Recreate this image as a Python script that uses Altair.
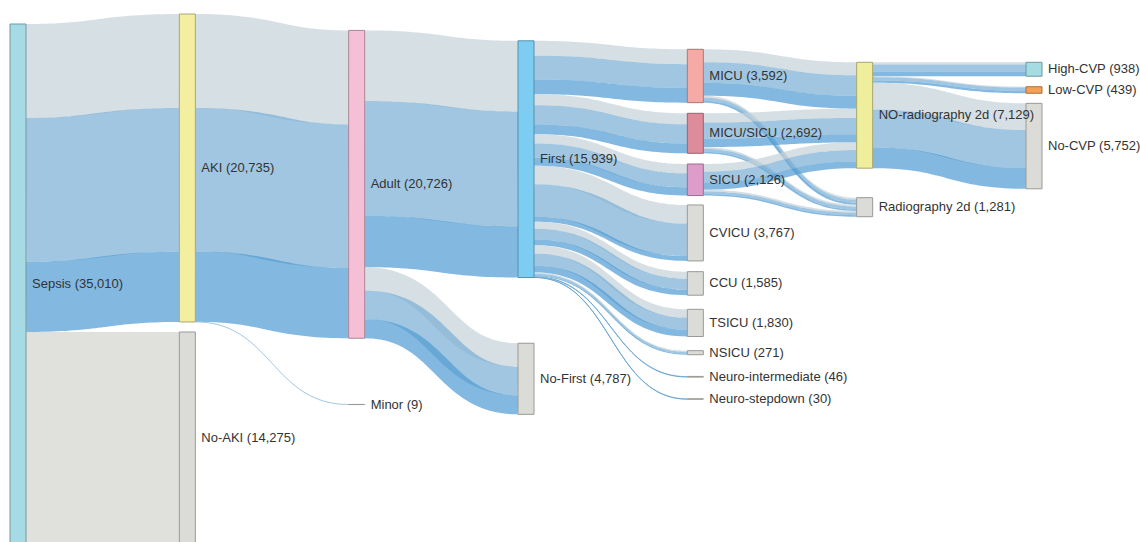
import altair as alt
import pandas as pd
import numpy as np

# ---------------------------------------------------------------------------
# Patient flow: sepsis -> AKI -> adult -> first ICU stay -> ICU type ->
# chest radiography within 2 days -> CVP group.
# Every flow is split by AKI stage (stage 1 / 2 / 3); the No-AKI branch has
# its own group.
# ---------------------------------------------------------------------------
link_source = [
    "Sepsis", "Sepsis",
    "AKI", "AKI",
    "Adult", "Adult",
    "First", "First", "First", "First", "First", "First", "First", "First", "First",
    "MICU", "MICU", "MICU/SICU", "MICU/SICU", "SICU", "SICU",
    "NO-radiography 2d", "NO-radiography 2d", "NO-radiography 2d",
]
link_target = [
    "AKI", "No-AKI",
    "Adult", "Minor",
    "First", "No-First",
    "MICU", "MICU/SICU", "SICU", "CVICU", "CCU", "TSICU", "NSICU",
    "Neuro-intermediate", "Neuro-stepdown",
    "NO-radiography 2d", "Radiography 2d", "NO-radiography 2d", "Radiography 2d",
    "NO-radiography 2d", "Radiography 2d",
    "High-CVP", "Low-CVP", "No-CVP",
]
stage1_patients = [
    6328, 0,
    6328, 0,
    4753, 1575,
    1000, 740, 630, 1250, 470, 560, 80, 14, 9,
    870, 130, 625, 115, 515, 115,
    150, 60, 1800,
]
stage2_patients = [
    9674, 0,
    9665, 9,
    7735, 1930,
    1600, 1290, 940, 2190, 730, 820, 130, 21, 14,
    1390, 210, 1090, 200, 770, 170,
    470, 220, 2560,
]
stage3_patients = [
    4733, 0,
    4733, 0,
    3451, 1282,
    992, 662, 556, 327, 385, 450, 61, 11, 7,
    862, 130, 557, 105, 450, 106,
    318, 159, 1392,
]
no_aki_patients = [
    0, 14275,
    0, 0,
    0, 0,
    0, 0, 0, 0, 0, 0, 0, 0, 0,
    0, 0, 0, 0, 0, 0,
    0, 0, 0,
]

# Nodes, listed column by column in drawing order (top to bottom)
node_names = [
    "Sepsis",
    "AKI", "No-AKI",
    "Adult", "Minor",
    "First", "No-First",
    "MICU", "MICU/SICU", "SICU", "CVICU", "CCU", "TSICU", "NSICU",
    "Neuro-intermediate", "Neuro-stepdown",
    "NO-radiography 2d", "Radiography 2d",
    "High-CVP", "Low-CVP", "No-CVP",
]
node_column = [0, 1, 1, 2, 2, 3, 3, 4, 4, 4, 4, 4, 4, 4, 4, 4, 5, 5, 6, 6, 6]

# ---------------------------------------------------------------------------
# Styling and layout settings
# ---------------------------------------------------------------------------
GREY = "#dbdcd7"
node_fill = {
    "Sepsis": "#a6dbe5", "AKI": "#f4eea0", "No-AKI": GREY,
    "Adult": "#f5bfd6", "Minor": GREY,
    "First": "#7dcdf2", "No-First": GREY,
    "MICU": "#f5aaa5", "MICU/SICU": "#de8b9b", "SICU": "#de9ccb",
    "CVICU": GREY, "CCU": GREY, "TSICU": GREY, "NSICU": GREY,
    "Neuro-intermediate": GREY, "Neuro-stepdown": GREY,
    "NO-radiography 2d": "#eeee9c", "Radiography 2d": GREY,
    "High-CVP": "#a3dce3", "Low-CVP": "#f4a058", "No-CVP": GREY,
}
# empty space left above each node inside its column
node_space_above = {
    "Sepsis": 10,
    "AKI": 0, "No-AKI": 10,
    "Adult": 16.4, "Minor": 66.2,
    "First": 26.8, "No-First": 65.7,
    "MICU": 35.3, "MICU/SICU": 10.65, "SICU": 10.7, "CVICU": 9.4,
    "CCU": 10.75, "TSICU": 14.1, "NSICU": 14.2,
    "Neuro-intermediate": 21.7, "Neuro-stepdown": 21.7,
    "NO-radiography 2d": 48.3, "Radiography 2d": 29.5,
    "High-CVP": 48.3, "Low-CVP": 10.5, "No-CVP": 10.1,
}
group_colors = {
    "stage1": "#c3d1d8",
    "stage2": "#79aed4",
    "stage3": "#4e9bd3",
    "none": "#d3d4cd",
}

W, H = 1140, 542
EXT_TOP, EXT_BOTTOM = 14, 544
LEFT, RIGHT = 10, 1042
NODE_W = 16
PAD = 10
LINK_OPACITY = 0.7
LABEL_FONT = "Liberation Sans"


def darker(hex_color, f=0.7):
    h = hex_color.lstrip("#")
    r, g, b = (int(h[i:i + 2], 16) for i in (0, 2, 4))
    return "#{:02x}{:02x}{:02x}".format(int(r * f), int(g * f), int(b * f))


# ---------------------------------------------------------------------------
# Sankey layout
# ---------------------------------------------------------------------------
groups = {
    "stage1": stage1_patients,
    "stage2": stage2_patients,
    "stage3": stage3_patients,
    "none": no_aki_patients,
}
links = []
for i, (s, t) in enumerate(zip(link_source, link_target)):
    for g, vals in groups.items():
        if vals[i] > 0:
            links.append({"source": s, "target": t, "group": g, "value": vals[i]})

inflow = {n: 0 for n in node_names}
outflow = {n: 0 for n in node_names}
for l in links:
    outflow[l["source"]] += l["value"]
    inflow[l["target"]] += l["value"]
node_value = {n: max(inflow[n], outflow[n]) for n in node_names}

ncol = max(node_column) + 1
col_nodes = [[n for n, c in zip(node_names, node_column) if c == k] for k in range(ncol)]
ky = min((EXT_BOTTOM - EXT_TOP - (len(ns) - 1) * PAD) / sum(node_value[n] for n in ns)
         for ns in col_nodes)
kx = (RIGHT - LEFT - NODE_W) / (ncol - 1)

node_pos = {}
for k, ns in enumerate(col_nodes):
    y = EXT_TOP
    for n in ns:
        y += node_space_above[n]
        top, bottom = y, y + node_value[n] * ky
        node_pos[n] = (LEFT + k * kx, LEFT + k * kx + NODE_W, top, bottom)
        y = bottom

node_rows = []
for n in node_names:
    x0, x1, y0, y1 = node_pos[n]
    node_rows.append({
        "name": n, "x0": x0, "x1": x1, "y0": y0, "y1": y1,
        "fill": node_fill[n], "stroke": darker(node_fill[n]),
        "lx": x1 + 6, "cy": (y0 + y1) / 2,
        "label": f"{n} ({node_value[n]:,})",
    })
node_df = pd.DataFrame(node_rows)

# stack links at both ends of each node
src_off = {n: node_pos[n][2] for n in node_names}
tgt_off = {n: node_pos[n][2] for n in node_names}
t_samples = np.linspace(0, 1, 41)
link_rows = []
for li, l in enumerate(links):
    w = l["value"] * ky
    ys = src_off[l["source"]] + w / 2
    yt = tgt_off[l["target"]] + w / 2
    src_off[l["source"]] += w
    tgt_off[l["target"]] += w
    xa = node_pos[l["source"]][1]
    xb = node_pos[l["target"]][0]
    xm = (xa + xb) / 2
    for j, t in enumerate(t_samples):
        u = 1 - t
        px = u ** 3 * xa + 3 * u * u * t * xm + 3 * u * t * t * xm + t ** 3 * xb
        py = u ** 3 * ys + 3 * u * u * t * ys + 3 * u * t * t * yt + t ** 3 * yt
        link_rows.append({
            "link": li, "step": j, "x": px, "y": py,
            "w": max(1.0, w), "color": group_colors[l["group"]],
        })
link_df = pd.DataFrame(link_rows)

# ---------------------------------------------------------------------------
# Chart
# ---------------------------------------------------------------------------
xs = alt.Scale(domain=[0, W], nice=False, zero=False)
ysc = alt.Scale(domain=[0, H], nice=False, zero=False, reverse=True)

link_layer = alt.Chart(link_df).mark_line(
    strokeCap="butt", opacity=LINK_OPACITY, clip=True
).encode(
    x=alt.X("x:Q", scale=xs, axis=None),
    y=alt.Y("y:Q", scale=ysc, axis=None),
    detail="link:N",
    order="step:Q",
    color=alt.Color("color:N", scale=None),
    strokeWidth=alt.StrokeWidth("w:Q", scale=None),
)

node_layer = alt.Chart(node_df).mark_rect(strokeWidth=1, clip=True).encode(
    x=alt.X("x0:Q", scale=xs, axis=None),
    x2="x1:Q",
    y=alt.Y("y0:Q", scale=ysc, axis=None),
    y2="y1:Q",
    fill=alt.Fill("fill:N", scale=None),
    stroke=alt.Stroke("stroke:N", scale=None),
)

label_layer = alt.Chart(node_df).mark_text(
    align="left", baseline="middle", font=LABEL_FONT, fontSize=13,
    color="#333333", clip=True
).encode(
    x=alt.X("lx:Q", scale=xs, axis=None),
    y=alt.Y("cy:Q", scale=ysc, axis=None),
    text="label:N",
)

chart = alt.layer(link_layer, node_layer, label_layer).properties(
    width=W, height=H, padding=0,
    autosize=alt.AutoSizeParams(type="none"),
    background="white",
).configure_view(stroke=None)

chart.save("out.html", embed_options={"renderer": "svg", "actions": False})
